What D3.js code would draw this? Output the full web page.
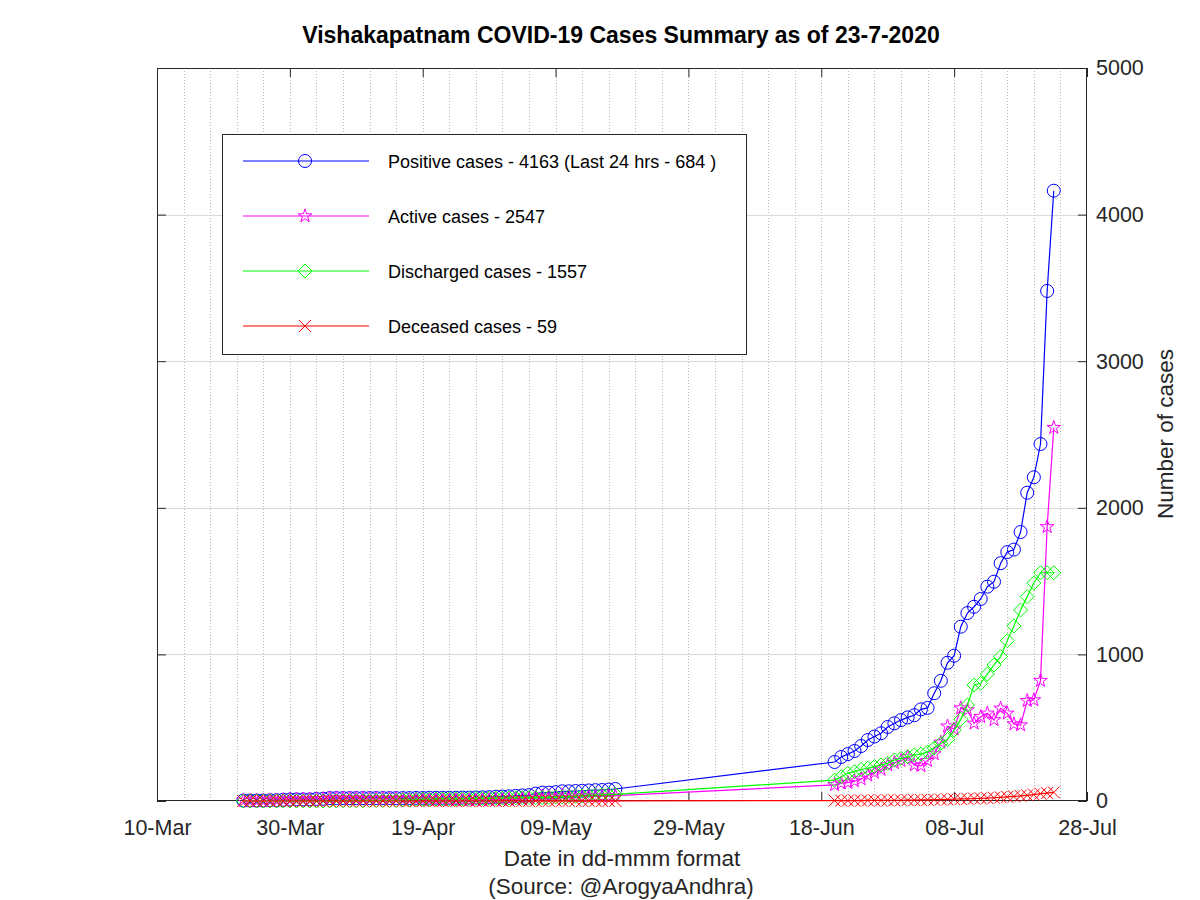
<!DOCTYPE html>
<html><head><meta charset="utf-8">
<script src="https://cdn.jsdelivr.net/npm/d3@7"></script>
<style>body{margin:0;background:#fff}text{font-family:"Liberation Sans",Arial,sans-serif}</style>
</head><body><svg id="c" width="1200" height="900"></svg>
<script>
const dates = [
"23-Mar","24-Mar","25-Mar","26-Mar","27-Mar","28-Mar","29-Mar","30-Mar","31-Mar",
"01-Apr","02-Apr","03-Apr","04-Apr","05-Apr","06-Apr","07-Apr","08-Apr","09-Apr","10-Apr",
"11-Apr","12-Apr","13-Apr","14-Apr","15-Apr","16-Apr","17-Apr","18-Apr","19-Apr","20-Apr",
"21-Apr","22-Apr","23-Apr","24-Apr","25-Apr","26-Apr","27-Apr","28-Apr","29-Apr","30-Apr",
"01-May","02-May","03-May","04-May","05-May","06-May","07-May","08-May","09-May","10-May",
"11-May","12-May","13-May","14-May","15-May","16-May","17-May","18-May",
"20-Jun","21-Jun","22-Jun","23-Jun","24-Jun","25-Jun","26-Jun","27-Jun","28-Jun","29-Jun","30-Jun",
"01-Jul","02-Jul","03-Jul","04-Jul","05-Jul","06-Jul","07-Jul","08-Jul","09-Jul","10-Jul",
"11-Jul","12-Jul","13-Jul","14-Jul","15-Jul","16-Jul","17-Jul","18-Jul","19-Jul","20-Jul",
"21-Jul","22-Jul","23-Jul"];

const positive = [
3,3,3,3,5,6,8,10,11,
11,11,14,15,20,20,20,20,20,20,20,20,20,20,20,20,20,21,21,22,22,22,22,22,23,23,24,25,26,29,
30,32,35,38,40,50,57,57,60,66,66,68,70,72,74,75,78,82,
266,300,320,341,375,416,440,462,505,530,552,570,585,625,635,735,820,943,991,1189,
1282,1325,1378,1462,1496,1622,1698,1715,1835,2103,2208,2435,3479,4163];

const active = [
3,3,3,3,5,6,8,10,11,
11,11,14,15,20,20,19,19,19,19,17,17,17,17,17,12,12,11,9,10,8,8,7,7,8,6,6,7,8,10,
9,10,13,15,16,26,33,31,32,37,35,34,34,33,33,32,33,36,
110,121,125,135,150,175,195,215,245,260,275,300,245,240,275,321,400,510,490,634,
621,530,575,598,553,632,598,525,518,684,689,821,1870,2547];

const discharged = [
0,0,0,0,0,0,0,0,0,
0,0,0,0,0,0,1,1,1,1,3,3,3,3,3,8,8,10,12,12,14,14,15,15,15,17,18,18,18,19,
20,21,21,22,23,23,23,25,27,28,30,33,35,38,40,42,44,45,
143,166,189,200,215,223,235,246,257,280,291,302,314,320,335,361,393,420,484,557,
655,791,803,866,928,985,1094,1194,1303,1394,1487,1557,1557,1557];

const deceased = [
0,0,0,0,0,0,0,0,0,
0,0,0,0,0,0,0,0,0,0,0,0,0,0,0,0,0,0,0,0,0,0,0,0,0,0,0,0,0,0,
1,1,1,1,1,1,1,1,1,1,1,1,1,1,1,1,1,1,
3,3,3,3,3,4,4,4,5,5,5,6,6,7,8,9,10,11,12,14,
15,17,18,20,22,25,28,31,35,39,44,50,54,59];

const xTickLabels = ["10-Mar","30-Mar","19-Apr","09-May","29-May","18-Jun","08-Jul","28-Jul"];
const yTicks = [0,1000,2000,3000,4000,5000];
const legendLabels = [
  "Positive cases - 4163 (Last 24 hrs - 684 )",
  "Active cases - 2547",
  "Discharged cases - 1557",
  "Deceased cases - 59"];
const seriesColors = ["#0000ff","#ff00ff","#00ff00","#ff0000"];
const seriesMarkers = ["circle","star","diamond","cross"];

const L=157,R=1087,T=68,B=801;
const parse = s => d3.timeParse("%d-%b-%Y")(s + "-2020");
const svg = d3.select("#c");
const x = d3.scaleTime().domain([parse(xTickLabels[0]), parse(xTickLabels[xTickLabels.length-1])]).range([L,R]);
const y = d3.scaleLinear().domain([0,5000]).range([B,T]);

// grid
const g0 = svg.append("g");
const start = parse(xTickLabels[0]);
const nDays = d3.timeDay.count(start, parse(xTickLabels[xTickLabels.length-1]));
for (let i = 4; i < nDays; i += 4) {
  const xx = Math.round(x(d3.timeDay.offset(start, i))) + 0.5;
  g0.append("line").attr("x1",xx).attr("x2",xx).attr("y1",T).attr("y2",B)
    .attr("stroke","#b5b5b5").attr("stroke-width",1).attr("stroke-dasharray","1,2");
}
yTicks.slice(1,-1).forEach(v => {
  const yy = Math.round(y(v)) + 0.5;
  g0.append("line").attr("x1",L).attr("x2",R).attr("y1",yy).attr("y2",yy)
    .attr("stroke","#d9d9d9").attr("stroke-width",1);
});

// axes (ticks inward on all four sides)
const fmt = d3.timeFormat("%d-%b");
const tickDates = xTickLabels.map(parse);
const axB = svg.append("g").attr("transform",`translate(0,${B})`)
  .call(d3.axisBottom(x).tickValues(tickDates).tickFormat(fmt).tickSizeInner(-9).tickSizeOuter(0).tickPadding(19));
const axT = svg.append("g").attr("transform",`translate(0,${T})`)
  .call(d3.axisTop(x).tickValues(tickDates).tickFormat("").tickSizeInner(-9).tickSizeOuter(0));
const axR = svg.append("g").attr("transform",`translate(${R},0)`)
  .call(d3.axisRight(y).tickValues(yTicks).tickFormat(d3.format("d")).tickSizeInner(-9).tickSizeOuter(0).tickPadding(9));
const axL = svg.append("g").attr("transform",`translate(${L},0)`)
  .call(d3.axisLeft(y).tickValues(yTicks).tickFormat("").tickSizeInner(-9).tickSizeOuter(0));
[axB,axT,axR,axL].forEach(a => {
  a.select(".domain").remove();
  a.selectAll("line").attr("stroke","#262626");
  a.selectAll("text").attr("font-size",21.5).attr("fill","#262626").attr("font-family","Liberation Sans, Arial, sans-serif");
});
svg.append("rect").attr("x",L+0.5).attr("y",T+0.5).attr("width",R-L-1).attr("height",B-T-1)
  .attr("fill","none").attr("stroke","#262626").attr("stroke-width",1);

// markers
function marker(sel, type, color) {
  if (type === "circle") sel.append("circle").attr("r",6.5);
  else if (type === "star") sel.append("path").attr("d", d3.symbol(d3.symbolStar, 58)());
  else if (type === "diamond") sel.append("path").attr("d","M0,-7L7,0L0,7L-7,0Z");
  else sel.append("path").attr("d","M-6,-6L6,6M-6,6L6,-6");
  sel.selectAll("circle,path").attr("fill","none").attr("stroke",color).attr("stroke-width",1);
}

const series = [positive, active, discharged, deceased];
const pts = dates.map(parse);
series.forEach((vals, k) => {
  const data = vals.map((v,i) => [pts[i], v]);
  const line = d3.line().x(d => x(d[0])).y(d => y(d[1]));
  svg.append("path").datum(data).attr("d", line).attr("fill","none")
    .attr("stroke", seriesColors[k]).attr("stroke-width",1.2);
  const gm = svg.append("g");
  data.forEach(d => {
    const m = gm.append("g").attr("transform",`translate(${x(d[0])},${y(d[1])})`);
    marker(m, seriesMarkers[k], seriesColors[k]);
  });
});

// legend
const lg = svg.append("g");
lg.append("rect").attr("x",222.5).attr("y",134.5).attr("width",524).attr("height",220)
  .attr("fill","#fff").attr("stroke","#262626").attr("stroke-width",1);
const rowY = [161,216,271,326];
legendLabels.forEach((t,k) => {
  const yy = rowY[k];
  lg.append("line").attr("x1",243).attr("x2",369).attr("y1",yy).attr("y2",yy)
    .attr("stroke",seriesColors[k]).attr("stroke-width",1.2);
  const m = lg.append("g").attr("transform",`translate(305,${yy})`);
  marker(m, seriesMarkers[k], seriesColors[k]);
  lg.append("text").attr("x",388).attr("y",yy+6.5).attr("font-size",18).attr("fill","#000").text(t);
});

// titles
svg.append("text").attr("x",621).attr("y",43).attr("text-anchor","middle")
  .attr("font-size",23).attr("font-weight","bold").attr("fill","#000")
  .text("Vishakapatnam COVID-19 Cases Summary as of 23-7-2020");
svg.append("text").attr("x",622).attr("y",866).attr("text-anchor","middle")
  .attr("font-size",22.5).attr("fill","#262626").text("Date in dd-mmm format");
svg.append("text").attr("x",621).attr("y",894).attr("text-anchor","middle")
  .attr("font-size",22.5).attr("fill","#262626").text("(Source: @ArogyaAndhra)");
svg.append("text").attr("transform","translate(1173,434) rotate(-90)").attr("text-anchor","middle")
  .attr("font-size",22.5).attr("fill","#262626").text("Number of cases");
</script></body></html>
